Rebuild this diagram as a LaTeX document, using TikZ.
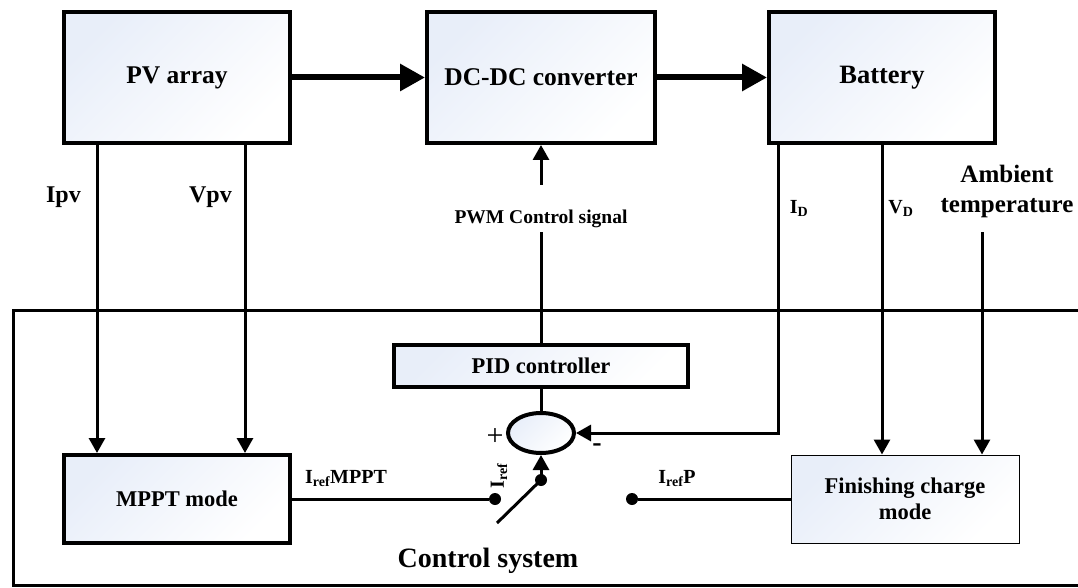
\documentclass[tikz,border=0pt]{standalone}
\usepackage{fontspec}
\setmainfont{Liberation Serif}
\usetikzlibrary{arrows.meta,shapes.geometric}
\definecolor{bluefill}{RGB}{232,238,249}
\tikzset{
  blk/.style={draw, line width=4pt, top color=bluefill, bottom color=white, shading angle=45, inner sep=0pt,
    font=\fontsize{25.5}{28}\selectfont\bfseries},
  sig/.style={line width=3pt, -{Triangle[length=15pt,width=16pt]}},
  wire/.style={line width=3pt},
  pow/.style={line width=6pt, line cap=round, -{Triangle[length=25pt,width=26pt]}},
  lbl/.style={inner sep=0pt, font=\fontsize{24}{28}\selectfont\bfseries},
  slbl/.style={inner sep=0pt, font=\fontsize{20}{24}\selectfont\bfseries},
  dot/.style={circle, fill, minimum size=12pt, inner sep=0pt},
}
\begin{document}
\begin{tikzpicture}[x=1pt,y=-1pt]
\useasboundingbox (0,0) rectangle (1078,588);
% outer frame
\draw[wire] (1090,310) -| (13,585) -- (1090,585);
% blocks
\node[blk, minimum width=226pt, minimum height=131pt] (pv) at (177,77.5) {\raisebox{-3pt}{PV array}};
\node[blk, minimum width=228pt, minimum height=131pt] (dc) at (541,77.5) {\raisebox{-3pt}{DC-DC converter}};
\node[blk, minimum width=226pt, minimum height=131pt, font=\fontsize{26.5}{28}\selectfont\bfseries] (bat) at (882,77.5) {\raisebox{-3pt}{Battery}};
\node[blk, minimum width=226pt, minimum height=88pt, font=\fontsize{22.5}{26}\selectfont\bfseries] (mppt) at (177,499) {MPPT mode};
\node[blk, minimum width=294pt, minimum height=42pt, font=\fontsize{22.5}{26}\selectfont\bfseries] (pid) at (541,366) {PID controller};
\node[blk, ellipse, minimum width=66pt, minimum height=40pt] (sum) at (541,433) {};
\node[blk, line width=1pt, minimum width=228pt, minimum height=88pt, align=center,
  font=\fontsize{22.5}{26}\selectfont\bfseries] (fin) at (905,499) {Finishing charge\\mode};
% power flow
\draw[pow] (pv.east) -- (dc.west);
\draw[pow] (dc.east) -- (bat.west);
% PV measurements
\draw[sig] ([xshift=-80pt]pv.south) -- ([xshift=-80pt]mppt.north);
\draw[sig] ([xshift=68pt]pv.south) -- ([xshift=68pt]mppt.north);
\node[lbl, anchor=base] (ipv) at (63.5,202) {Ipv};
\node[lbl, anchor=base] (vpv) at (210.5,202) {Vpv};
% PWM
\coordinate (pwmtop) at (541,185);
\coordinate (pwmbot) at (541,232);
\draw[sig] (pwmtop) -- (dc.south);
\draw[wire] (pwmbot) -- (pid.north);
\node[inner sep=0pt, font=\fontsize{19.5}{23}\selectfont\bfseries, anchor=base] (pwm) at (541,223) {PWM Control signal};
% PID to summer
\draw[wire] (pid.south) -- (sum.north);
% battery measurements
\draw[sig] ([xshift=-104pt]bat.south) |- (sum.east);
\draw[sig] (bat.south) -- (bat.south |- fin.north);
\coordinate (amb) at (982,232);
\draw[sig] (amb) -- (amb |- fin.north);
\node[slbl, anchor=base] (id) at (799,213) {I\textsubscript{D}};
\node[slbl, anchor=base] (vd) at (901,213) {V\textsubscript{D}};
\node[lbl, align=center, font=\fontsize{25}{30}\selectfont\bfseries] (ambl) at (1007,191) {Ambient\\temperature};
% switch
\node[dot] (c1) at (495,499) {};
\node[dot] (piv) at (541,480) {};
\node[dot] (c2) at (632,499) {};
\coordinate (lev) at (497,523);
\draw[wire] (mppt.east) -- (c1);
\draw[wire] (c2) -- (fin.west);
\draw[wire] (lev) -- (piv.center);
\draw[sig] (piv.center) -- (sum.south);
\node[slbl, anchor=base] (irm) at (346,483) {I\textsubscript{ref}MPPT};
\node[slbl, anchor=base] (irp) at (677,483) {I\textsubscript{ref}P};
\node[slbl, rotate=90] (ir) at (499,476) {I\textsubscript{ref}};
\node[inner sep=0pt, font=\fontsize{30}{32}\selectfont] (plus) at (495,437) {+};
\node[inner sep=0pt, font=\fontsize{28}{30}\selectfont\bfseries] (minus) at (597,448) {-};
\node[lbl, anchor=base, font=\fontsize{28}{32}\selectfont\bfseries] (cs) at (488,567) {Control system};
\end{tikzpicture}
\end{document}
